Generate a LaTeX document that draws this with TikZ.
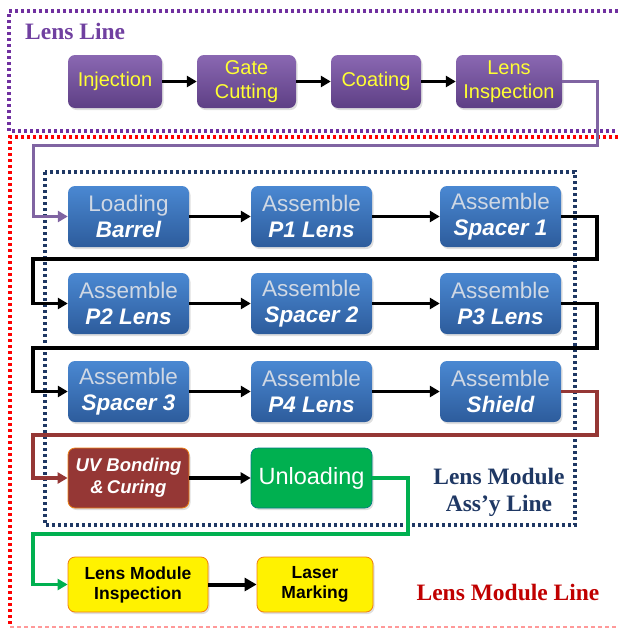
\documentclass[tikz,border=0pt]{standalone}
\usepackage{fontspec}
\setmainfont{Liberation Sans}
\newfontfamily\labelfont{Liberation Serif}
\usetikzlibrary{arrows.meta,shadows}
\definecolor{pT}{HTML}{8A68B2}
\definecolor{pB}{HTML}{5E3F85}
\definecolor{pLine}{HTML}{8064A2}
\definecolor{pDot}{HTML}{7030A0}
\definecolor{bT}{HTML}{4A88D2}
\definecolor{bB}{HTML}{2D5C9C}
\definecolor{navy}{HTML}{1F3864}
\definecolor{brownF}{HTML}{953735}
\definecolor{greenF}{HTML}{00B050}
\definecolor{ytxt}{HTML}{FFFF33}
\definecolor{greyT}{HTML}{D0D8E4}
\definecolor{lblpurple}{HTML}{7040A0}
\definecolor{lblred}{HTML}{C00000}
\begin{document}
\begin{tikzpicture}[x=1pt,y=-1pt,
  base/.style={rounded corners=7pt, align=center, inner sep=0pt,
    drop shadow={opacity=0.25, shadow xshift=1.5pt, shadow yshift=-2pt}},
  pbox/.style={base, top color=pT, bottom color=pB, text=ytxt,
    minimum height=53pt, font=\fontsize{20}{23.5}\selectfont},
  bbox/.style={base, top color=bT, bottom color=bB, text=greyT,
    minimum width=121pt, minimum height=61pt, font=\fontsize{22.5}{26}\selectfont},
  uvbox/.style={base, fill=brownF, draw=orange!70!brown, line width=0.8pt, text=white,
    minimum width=121pt, minimum height=60pt, font=\fontsize{18.5}{22}\selectfont\bfseries\itshape},
  gbox/.style={base, fill=greenF, draw=greenF!70!blue, line width=0.6pt, text=white,
    minimum width=121pt, minimum height=60pt, font=\fontsize{23.5}{26}\selectfont},
  ybox/.style={base, fill=yellow, draw=orange!80!brown, line width=0.8pt, text=black,
    minimum height=55pt, font=\fontsize{17.5}{20}\selectfont\bfseries},
  conn/.style={line width=3.2pt, -{Triangle[length=10pt,width=11pt]}},
  dotline/.style={line width=3.2pt, dash pattern=on 3pt off 3pt},
  lbl/.style={font=\fontsize{23.5}{27}\selectfont\labelfont\bfseries, align=center, inner sep=0pt}
]
\useasboundingbox (0,0) rectangle (618,630);

% frames
\draw[dotline, pDot] (618,11) -- (9,11) -- (9,131) -- (618,131);
\draw[dotline, red] (618,137) -- (10,137) -- (10,626);
\draw[line width=1.2pt, red!40, dash pattern=on 4pt off 3pt] (10,627) -- (618,627);
\draw[dotline, navy] (45,172) rectangle (575,525);

% labels
\node[lbl, text=lblpurple, anchor=west] (lensline) at (25,31) {Lens Line};
\node[lbl, text=navy] (assyline) at (499,492) {Lens Module\\Ass’y Line};
\node[lbl, text=lblred] (lmline) at (508,592) {Lens Module Line};

% lens line
\node[pbox, minimum width=94pt] (inj) at (115,81.5) {Injection};
\node[pbox, minimum width=99pt] (gate) at (246.5,81.5) {Gate\\Cutting};
\node[pbox, minimum width=90pt] (coat) at (376,81.5) {Coating};
\node[pbox, minimum width=106pt] (insp) at (509,81.5) {Lens\\Inspection};

% assembly rows
\node[bbox] (b1) at (128.5,216.5) {Loading\\\textcolor{white}{\bfseries\itshape Barrel}};
\node[bbox] (b2) at (311.5,216.5) {Assemble\\\textcolor{white}{\bfseries\itshape P1 Lens}};
\node[bbox] (b3) at (500.5,216.5) {Assemble\\\textcolor{white}{\bfseries\itshape Spacer 1}};
\node[bbox] (b4) at (128.5,303.5) {Assemble\\\textcolor{white}{\bfseries\itshape P2 Lens}};
\node[bbox] (b5) at (311.5,303.5) {Assemble\\\textcolor{white}{\bfseries\itshape Spacer 2}};
\node[bbox] (b6) at (500.5,303.5) {Assemble\\\textcolor{white}{\bfseries\itshape P3 Lens}};
\node[bbox] (b7) at (128.5,391.5) {Assemble\\\textcolor{white}{\bfseries\itshape Spacer 3}};
\node[bbox] (b8) at (311.5,391.5) {Assemble\\\textcolor{white}{\bfseries\itshape P4 Lens}};
\node[bbox] (b9) at (500.5,391.5) {Assemble\\\textcolor{white}{\bfseries\itshape Shield}};

\node[uvbox] (uv) at (128.5,478) {UV Bonding\\\&\,Curing};
\node[gbox] (unl) at (311.5,478) {Unloading};

\node[ybox, minimum width=140pt] (lmi) at (138,584.5) {Lens Module\\Inspection};
\node[ybox, minimum width=116pt] (laser) at (315,584.5) {Laser\\Marking};

% connectors within rows
\draw[conn] (inj) -- (gate);
\draw[conn] (gate) -- (coat);
\draw[conn] (coat) -- (insp);
\draw[conn] (b1) -- (b2);
\draw[conn] (b2) -- (b3);
\draw[conn] (b4) -- (b5);
\draw[conn] (b5) -- (b6);
\draw[conn] (b7) -- (b8);
\draw[conn] (b8) -- (b9);
\draw[conn] (uv) -- (unl);
\draw[line width=4pt, -{Triangle[length=12pt,width=13pt]}] (lmi) -- (laser);

% wrap connectors
\draw[conn, pLine, line width=3pt] (insp.east) -- (597,81.5) -- (597,145) -- (33,145) -- (33,216.5) -- (b1.west);
\draw[conn] (b3.east) -- (597,216.5) -- (597,259) -- (33,259) -- (33,303.5) -- (b4.west);
\draw[conn] (b6.east) -- (597,303.5) -- (597,348) -- (33,348) -- (33,391.5) -- (b7.west);
\draw[conn, brownF] (b9.east) -- (597,391.5) -- (597,435) -- (33,435) -- (33,478) -- (uv.west);
\draw[conn, greenF] (unl.east) -- (408,478) -- (408,534) -- (33,534) -- (33,584.5) -- (lmi.west);
\end{tikzpicture}
\end{document}
